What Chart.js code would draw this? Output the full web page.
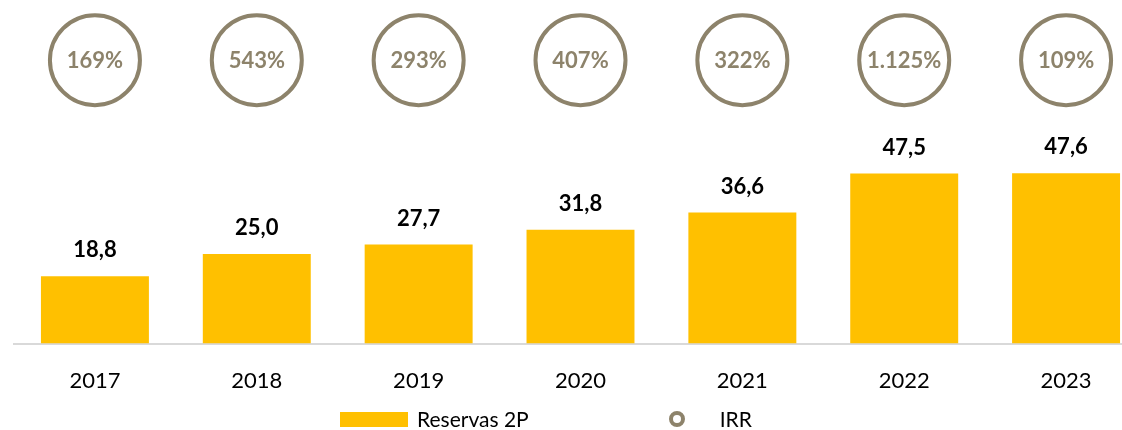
<!DOCTYPE html>
<html>
<head>
<meta charset="utf-8">
<script src="https://cdn.jsdelivr.net/npm/chart.js@4.4.0/dist/chart.umd.min.js"></script>
<style>
  html, body { margin: 0; padding: 0; background: #fff; overflow: hidden; }
  #wrap { position: relative; width: 1122px; height: 430px; overflow: hidden; }
  #box { position: absolute; left: 0; top: 0; width: 1150px; height: 424px; }
  #legend { position: absolute; top: 408px; left: 340px; display: flex; align-items: center;
            font-family: Lato, sans-serif; font-size: 21px; color: #000; line-height: 22px; }
  .item { display: flex; align-items: center; }
  .item + .item { margin-left: 140px; }
  .swatch-bar { width: 68px; height: 15px; margin-right: 9px; }
  .swatch-dot { width: 8px; height: 8px; border-radius: 50%; border: 4px solid; margin-right: 35px; background: #fff; }
</style>
</head>
<body>
<div id="wrap">
  <div id="box"><canvas id="reservasChart"></canvas></div>
  <div id="legend"></div>
</div>
<script>
// years, 2P reserves and IRR per year
const years = ['2017', '2018', '2019', '2020', '2021', '2022', '2023'];
const reservas2P = [18.8, 25.0, 27.7, 31.8, 36.6, 47.5, 47.6];
const irr = [169, 543, 293, 407, 322, 1125, 109];

const barColor = '#FFC000';
const irrColor = '#8D836B';
const irrRow = 0.825; // height of the IRR badge row on its own axis

function fmtDecimal(v) {
  return v.toFixed(1).replace('.', ',');
}
function fmtPercent(v) {
  return String(v).replace(/\B(?=(\d{3})+(?!\d))/g, '.') + '%';
}

// value labels above bars and percentages inside the IRR circles
const labelPlugin = {
  id: 'labels',
  afterDatasetsDraw(chart) {
    const ctx = chart.ctx;
    ctx.save();
    ctx.textAlign = 'center';
    ctx.textBaseline = 'middle';

    ctx.font = 'bold 22px Lato';
    ctx.fillStyle = '#000';
    chart.getDatasetMeta(0).data.forEach((bar, i) => {
      ctx.fillText(fmtDecimal(reservas2P[i]), bar.x, bar.y - 26);
    });

    ctx.font = 'bold 22px Lato';
    ctx.fillStyle = irrColor;
    chart.getDatasetMeta(1).data.forEach((pt, i) => {
      ctx.fillText(fmtPercent(irr[i]), pt.x, pt.y + 1);
    });
    ctx.restore();
  }
};

const chart = new Chart(document.getElementById('reservasChart'), {
  type: 'bar',
  data: {
    labels: years,
    datasets: [{
      label: 'Reservas 2P',
      data: reservas2P,
      backgroundColor: barColor,
      barPercentage: 0.667,
      categoryPercentage: 1,
      yAxisID: 'y'
    }, {
      type: 'line',
      label: 'IRR',
      data: irr.map(() => irrRow),
      showLine: false,
      pointRadius: 45,
      pointHoverRadius: 45,
      pointBorderWidth: 4,
      pointBorderColor: irrColor,
      pointBackgroundColor: '#fff',
      yAxisID: 'irrRow'
    }]
  },
  plugins: [labelPlugin],
  options: {
    responsive: true,
    maintainAspectRatio: false,
    animation: false,
    events: [],
    layout: {
      autoPadding: false,
      padding: { left: 14, right: 3, top: 0, bottom: 6 }
    },
    plugins: {
      legend: { display: false },
      tooltip: { enabled: false }
    },
    scales: {
      x: {
        grid: { display: false, drawTicks: false },
        border: { display: true, color: '#D9D9D9', width: 2 },
        ticks: {
          color: '#000',
          padding: 24,
          font: { family: 'Lato', size: 22 }
        }
      },
      y: {
        display: false,
        min: 0,
        max: 96
      },
      irrRow: {
        display: false,
        min: 0,
        max: 1
      }
    }
  }
});

// legend built from the chart's datasets
const legendEl = document.getElementById('legend');
chart.data.datasets.forEach((ds) => {
  const item = document.createElement('div');
  item.className = 'item';
  const sw = document.createElement('span');
  if (ds.type === 'line') {
    sw.className = 'swatch-dot';
    sw.style.borderColor = ds.pointBorderColor;
  } else {
    sw.className = 'swatch-bar';
    sw.style.background = ds.backgroundColor;
  }
  const txt = document.createElement('span');
  txt.textContent = ds.label;
  item.appendChild(sw);
  item.appendChild(txt);
  legendEl.appendChild(item);
});
</script>
</body>
</html>
